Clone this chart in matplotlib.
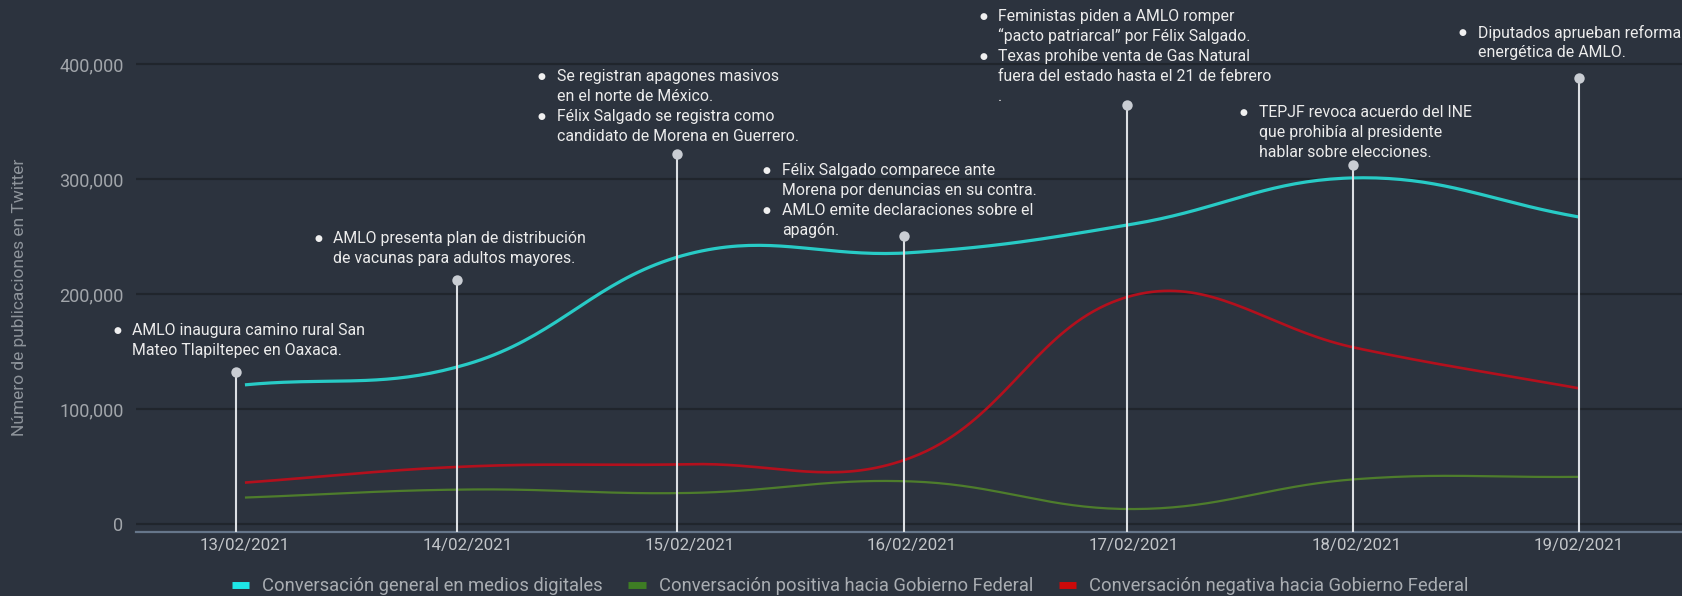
import numpy as np
import matplotlib
matplotlib.use('Agg')
from matplotlib import pyplot as plt
from matplotlib.lines import Line2D
from matplotlib.ticker import FuncFormatter

# Data
dates = ['13/02/2021', '14/02/2021', '15/02/2021', '16/02/2021',
         '17/02/2021', '18/02/2021', '19/02/2021']
general = [121000, 139000, 235000, 236000, 261000, 301000, 267000]
positive = [23000, 30000, 27000, 37000, 13000, 39000, 41000]
negative = [36000, 50000, 52000, 58000, 199000, 153000, 118000]
series_names = ['Conversación general en medios digitales',
                'Conversación positiva hacia Gobierno Federal',
                'Conversación negativa hacia Gobierno Federal']

# Annotation anchors (x in category units, height in publications)
annot_x = [-0.04, 0.954, 1.943, 2.964, 3.968, 4.984, 6.0]
annot_h = [132000, 212000, 321500, 250000, 364000, 312000, 388000]
annot_text = [
    [['AMLO inaugura camino rural San', 'Mateo Tlapiltepec en Oaxaca.']],
    [['AMLO presenta plan de distribución', 'de vacunas para adultos mayores.']],
    [['Se registran apagones masivos', 'en el norte de México.'],
     ['Félix Salgado se registra como', 'candidato de Morena en Guerrero.']],
    [['Félix Salgado comparece ante', 'Morena por denuncias en su contra.'],
     ['AMLO emite declaraciones sobre el', 'apagón.']],
    [['Feministas piden a AMLO romper', '“pacto patriarcal” por Félix Salgado.'],
     ['Texas prohíbe venta de Gas Natural', 'fuera del estado hasta el 21 de febrero', '.']],
    [['TEPJF revoca acuerdo del INE', 'que prohibía al presidente', 'hablar sobre elecciones.']],
    [['Diputados aprueban reforma', 'energética de AMLO.']],
]
# text block offsets from the anchor dot (pixels): bullet dx, first line dy
annot_dx = [-119, -139, -135, -137, -144, -109, -116]
annot_dy = [42, 42, 78, 66, 89, 53, 45]

BG = '#2c333e'
W, H = 1683, 596
fig = plt.figure(figsize=(W / 100, H / 100), dpi=100, facecolor=BG)
ax = fig.add_axes([136 / W, (H - 532) / H, 1 - 136 / W, 532 / H])
ax.set_facecolor(BG)

X_PX = 222.3
Y_PX = 115 / 100000


def spline(ys, t=0.4, n=40):
    # chart.js style cubic bezier smoothing, done in pixel space
    px = np.arange(len(ys)) * X_PX
    py = np.array(ys, dtype=float) * Y_PX
    pts = np.column_stack([px, py])
    cp_prev, cp_next = [], []
    for i in range(len(pts)):
        prev = pts[i - 1] if i > 0 else pts[i]
        nxt = pts[i + 1] if i < len(pts) - 1 else pts[i]
        d01 = np.hypot(*(pts[i] - prev))
        d12 = np.hypot(*(nxt - pts[i]))
        tot = d01 + d12 if d01 + d12 > 0 else 1
        fa, fb = t * d01 / tot, t * d12 / tot
        cp_prev.append(pts[i] - fa * (nxt - prev))
        cp_next.append(pts[i] + fb * (nxt - prev))
    out = []
    s = np.linspace(0, 1, n)[:, None]
    for i in range(len(pts) - 1):
        p0, p1, p2, p3 = pts[i], cp_next[i], cp_prev[i + 1], pts[i + 1]
        seg = ((1 - s) ** 3) * p0 + 3 * ((1 - s) ** 2) * s * p1 + 3 * (1 - s) * s ** 2 * p2 + s ** 3 * p3
        out.append(seg)
    out = np.vstack(out)
    return out[:, 0] / X_PX, out[:, 1] / Y_PX


styles = [('#28cbc6', 2.3), ('#4e7d2c', 1.6), ('#b3101d', 1.9)]
for vals, (c, lw) in zip([general, positive, negative], styles):
    sx, sy = spline(vals)
    ax.plot(sx, sy, color=c, lw=lw, zorder=3, solid_capstyle='butt')

ax.set_xlim(-0.49, 6.469)
ax.set_ylim(-6957, 455652)

# grid
for v in range(0, 400001, 100000):
    ax.axhline(v, color='#20252c', lw=1.6, zorder=1)
for s in ['top', 'right', 'left']:
    ax.spines[s].set_visible(False)
ax.spines['bottom'].set_color('#66768a')
ax.spines['bottom'].set_linewidth(1.6)

ax.set_yticks(range(0, 400001, 100000))
ax.yaxis.set_major_formatter(FuncFormatter(lambda v, p: f'{v:,.0f}'))
ax.set_xticks(range(len(dates)))
ax.set_xticklabels(dates)
ax.tick_params(axis='y', length=0, pad=9, labelsize=13, labelcolor='#a2a6ab')
ax.tick_params(axis='x', length=0, pad=4, labelsize=12.2, labelcolor='#c2c5c9')
for lab in ax.get_xticklabels() + ax.get_yticklabels():
    lab.set_fontfamily('Roboto')

fig.text(20 / W, 1 - 297 / H, 'Número de publicaciones en Twitter', rotation=90,
         ha='center', va='center', fontsize=12.5, color='#8e949b', family='Roboto')

# annotations
for x, h, items, dx, dy in zip(annot_x, annot_h, annot_text, annot_dx, annot_dy):
    ax.plot([x, x], [-6957, h], color='#dcdfe3', lw=1.5, zorder=4, solid_capstyle='butt')
    ax.plot(x, h, 'o', color='#c9cdd3', markersize=7.5, markeredgewidth=0, zorder=5)
    k = 0
    for item in items:
        for j, line in enumerate(item):
            yoff = dy - 20 * k
            if j == 0:
                ax.annotate('●', xy=(x, h), xytext=(dx, yoff), textcoords='offset pixels',
                            ha='center', va='center', fontsize=6.5, color='#f0f0f0',
                            family='DejaVu Sans', annotation_clip=False)
            ax.annotate(line, xy=(x, h), xytext=(dx + 15, yoff), textcoords='offset pixels',
                        ha='left', va='center', fontsize=11.4, color='#ececec',
                        family='Roboto', annotation_clip=False)
            k += 1

handles = [Line2D([0], [0], color=c, lw=5, solid_capstyle='butt')
           for c in ['#1ee6e6', '#3e7d24', '#cc0a0a']]
leg = fig.legend(handles, series_names, loc='center', bbox_to_anchor=(850 / W, 10 / H),
                 ncol=3, frameon=False, handlelength=0.93, handletextpad=0.71,
                 columnspacing=1.42, prop={'family': 'Roboto', 'size': 13.2})
for t in leg.get_texts():
    t.set_color('#a9adb2')

fig.savefig('out.png', dpi=100, facecolor=BG)
